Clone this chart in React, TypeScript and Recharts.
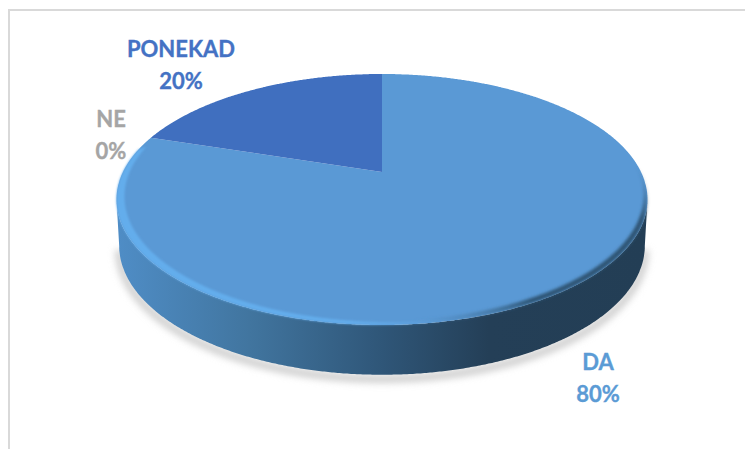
import { Pie, PieChart, Cell } from 'recharts';

const CATEGORIES = ['DA', 'NE', 'PONEKAD'];
const VALUES = [80, 0, 20];
const COLORS = ['#5b9bd5', '#a5a5a5', '#4472c4'];
const SLICE_COLORS = ['#5a99d5', '#a5a5a5', '#406fbf'];

const data = CATEGORIES.map((name, i) => ({ name, value: VALUES[i] }));

// where each two line label sits, relative to the slice apex
const LABEL_OFFSETS: Record<string, [number, number]> = {
  DA: [216, 198],
  NE: [-271, -45],
  PONEKAD: [-201, -115],
};

// the disc is seen in perspective, so the apex is above the middle of the ellipse
const SQUASH = 0.4727;
const APEX_SHIFT = 27.5;
const RAY_STRETCH = 2.2;
const DEPTH = 46;

type Pt = { x: number; y: number };

function rimPoint(deg: number, cx: number, cy: number, r: number): Pt {
  const rad = ((90 - deg) * Math.PI) / 180;
  const ry = r * SQUASH;
  const dx = RAY_STRETCH * Math.sin(rad);
  const dy = -Math.cos(rad);
  const a = (dx * dx) / (r * r) + (dy * dy) / (ry * ry);
  const b = (2 * dy * -APEX_SHIFT) / (ry * ry);
  const c = (APEX_SHIFT * APEX_SHIFT) / (ry * ry) - 1;
  const s = (-b + Math.sqrt(b * b - 4 * a * c)) / (2 * a);
  return { x: cx + s * dx, y: cy + s * dy };
}

function sampleArc(startAngle: number, endAngle: number, cx: number, cy: number, r: number) {
  const steps = Math.max(1, Math.round(Math.abs(endAngle - startAngle) * 3));
  const pts: Pt[] = [];
  for (let i = 0; i <= steps; i++) {
    pts.push(rimPoint(startAngle + ((endAngle - startAngle) * i) / steps, cx, cy, r));
  }
  return pts;
}

const toPath = (pts: Pt[]) => pts.map((p, i) => `${i ? 'L' : 'M'}${p.x.toFixed(1)} ${p.y.toFixed(1)}`).join(' ');

// band between an edge arc and the same arc pushed inwards
function crescent(pts: Pt[], sx: number, sy: number) {
  const inner = pts.map((p) => ({ x: p.x + sx, y: p.y + sy })).reverse();
  return `${toPath(pts)} ${toPath(inner).replace('M', 'L')} Z`;
}

function Slice(props: any) {
  const { cx, cy, outerRadius: r, startAngle, endAngle, fill } = props;
  if (startAngle === endAngle) return null;
  const arc = sampleArc(startAngle, endAngle, cx, cy, r);
  const face = `M${cx} ${cy} ${toPath(arc).replace('M', 'L')} Z`;
  const ey = cy + APEX_SHIFT;
  const lower = arc.filter((p) => p.y >= ey);
  const base = lower.map((p) => ({
    x: cx + (p.x - cx) * 0.99,
    y: ey + DEPTH + (p.y - ey) * 1.03,
  }));
  const leftEdge = arc.filter((p) => p.x < cx + 70 && p.y >= ey - 50);
  const rightEdge = arc.filter((p) => p.x > cx + 20 && p.y >= ey - 30);

  return (
    <g>
      {lower.length > 0 && (
        <>
          <path
            d={toPath(base.map((p) => ({ x: p.x, y: p.y + 4 })))}
            fill='none'
            stroke='#cfcfcf'
            strokeWidth={8}
            filter='url(#softShadow)'
          />
          <path d={`${toPath(lower)} ${toPath([...base].reverse()).replace('M', 'L')} Z`} fill='url(#wallGrad)' />
        </>
      )}
      <path d={face} fill={fill} />
      {rightEdge.length > 0 && <path d={crescent(rightEdge, -4, -4)} fill='url(#shadeGrad)' filter='url(#softEdge)' />}
      {leftEdge.length > 0 && <path d={crescent(leftEdge, 8, -3)} fill='url(#rimGrad)' filter='url(#softRim)' />}
    </g>
  );
}

function renderLabel(props: any) {
  const { cx, cy, name, percent, index } = props;
  const [dx, dy] = LABEL_OFFSETS[name];
  const x = cx + dx;
  const y = cy + dy;
  const style = { fontFamily: 'Lato, sans-serif', fontWeight: 700, fontSize: 22 };
  return (
    <text x={x} y={y} textAnchor='middle' fill={COLORS[index]} stroke={COLORS[index]} strokeWidth={0.35} style={style}>
      <tspan x={x}>{name}</tspan>
      <tspan x={x} dy={32}>{`${Math.round(percent * 100)}%`}</tspan>
    </text>
  );
}

export default function App() {
  return (
    <div style={{ position: 'absolute', left: 0, top: 0, width: 745, height: 449, background: '#fff', overflow: 'hidden' }}>
      <div
        style={{
          position: 'absolute',
          left: 8,
          top: 9,
          width: 745,
          height: 449,
          borderLeft: '2px solid #d9d9d9',
          borderTop: '2px solid #d9d9d9',
        }}
      />
      <PieChart
        width={745}
        height={449}
        margin={{ top: 0, right: 0, bottom: 0, left: 0 }}
        style={{ position: 'absolute', left: 0, top: 0 }}
      >
        <defs>
          <linearGradient id='wallGrad' gradientUnits='userSpaceOnUse' x1={117} y1={0} x2={648} y2={0}>
            <stop offset='0%' stopColor='#4f8dc6' />
            <stop offset='25%' stopColor='#41759f' />
            <stop offset='50%' stopColor='#2f5678' />
            <stop offset='70%' stopColor='#243f57' />
            <stop offset='100%' stopColor='#233e55' />
          </linearGradient>
          <linearGradient id='rimGrad' gradientUnits='userSpaceOnUse' x1={117} y1={0} x2={450} y2={0}>
            <stop offset='0%' stopColor='#64adec' />
            <stop offset='70%' stopColor='#64adec' />
            <stop offset='100%' stopColor='#64adec' stopOpacity={0} />
          </linearGradient>
          <linearGradient id='shadeGrad' gradientUnits='userSpaceOnUse' x1={645} y1={175} x2={420} y2={330}>
            <stop offset='0%' stopColor='#2f5574' stopOpacity={0} />
            <stop offset='10%' stopColor='#2f5574' />
            <stop offset='60%' stopColor='#2f5574' />
            <stop offset='100%' stopColor='#4d86b8' stopOpacity={0} />
          </linearGradient>
          <filter id='softEdge' x='-5%' y='-5%' width='110%' height='110%'>
            <feGaussianBlur stdDeviation='1.8' />
          </filter>
          <filter id='softRim' x='-5%' y='-5%' width='110%' height='110%'>
            <feGaussianBlur stdDeviation='1.2' />
          </filter>
          <filter id='softShadow' x='-10%' y='-10%' width='120%' height='120%'>
            <feGaussianBlur stdDeviation='3.5' />
          </filter>
        </defs>
        <Pie
          data={data}
          dataKey='value'
          nameKey='name'
          cx={382}
          cy={172}
          outerRadius={265.5}
          startAngle={90}
          endAngle={-270}
          stroke='none'
          shape={Slice}
          label={renderLabel}
          labelLine={false}
          isAnimationActive={false}
        >
          {data.map((_, index) => (
            <Cell key={`cell-${index}`} fill={SLICE_COLORS[index]} />
          ))}
        </Pie>
      </PieChart>
    </div>
  );
}
